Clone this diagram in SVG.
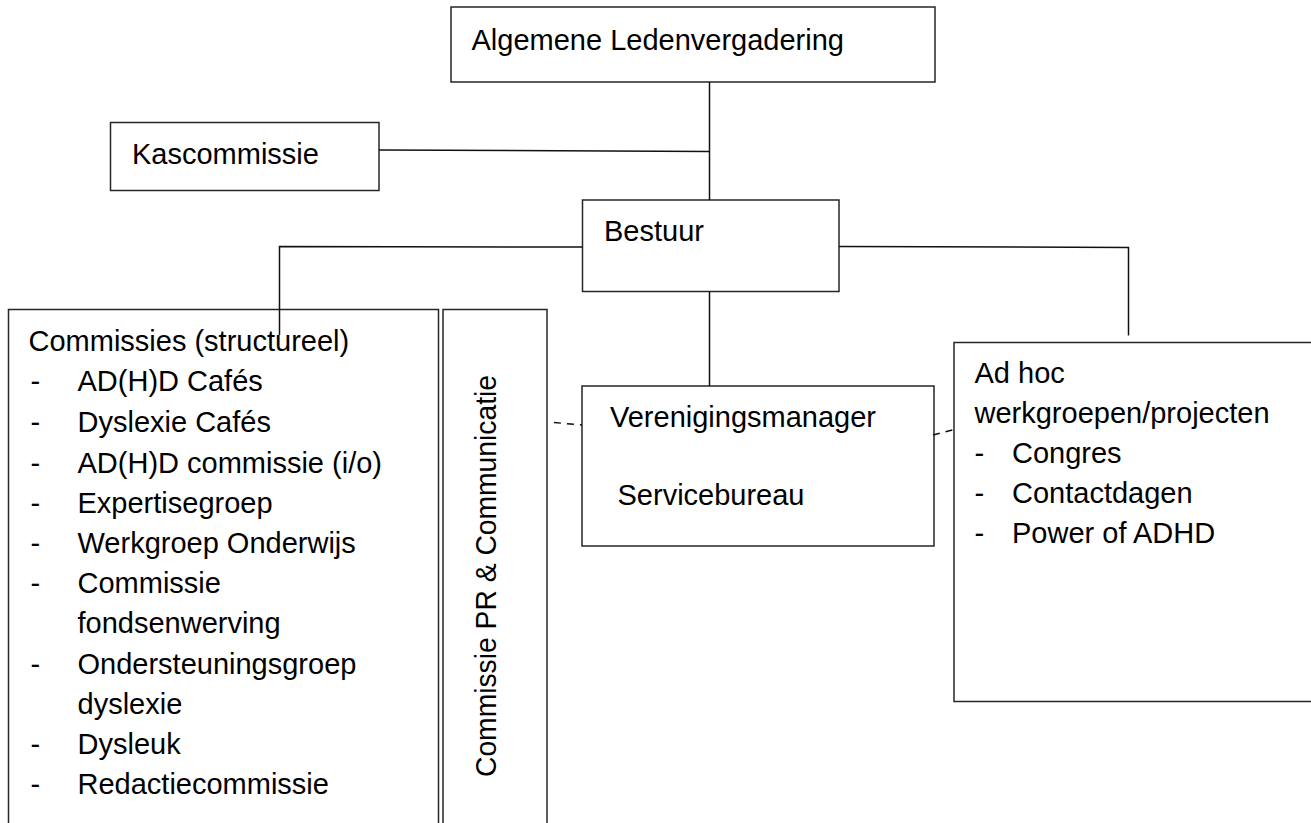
<svg xmlns="http://www.w3.org/2000/svg" width="1311" height="823" viewBox="0 0 1311 823">
<style>
  .box { fill: #ffffff; stroke: #262626; stroke-width: 1.5; }
  .ln { fill: none; stroke: #111111; stroke-width: 1.5; }
  .dash { fill: none; stroke: #111111; stroke-width: 1.5; stroke-dasharray: 7 6; }
  text { font-family: "Liberation Sans", Arial, sans-serif; font-size: 29px; fill: #000000; }
</style>
<rect x="0" y="0" width="1311" height="823" fill="#ffffff"/>

<g id="node-alv">
  <rect class="box" x="451" y="7" width="484" height="75"/>
  <text x="471.5" y="50">Algemene Ledenvergadering</text>
</g>

<g id="node-kascommissie">
  <rect class="box" x="110.5" y="122.5" width="268.5" height="68"/>
  <text x="132" y="164">Kascommissie</text>
</g>

<g id="node-bestuur">
  <rect class="box" x="582.5" y="200" width="256.5" height="91.5"/>
  <text x="604" y="240.5">Bestuur</text>
</g>

<g id="node-commissies">
  <rect class="box" x="8.5" y="309.5" width="430" height="530"/>
  <text x="28.5" y="350.5">Commissies (structureel)</text>
  <text x="30.5" y="390.5">-</text><text x="77.5" y="390.5">AD(H)D Cafés</text>
  <text x="30.5" y="431.5">-</text><text x="77.5" y="431.5">Dyslexie Cafés</text>
  <text x="30.5" y="472.5">-</text><text x="77.5" y="472.5">AD(H)D commissie (i/o)</text>
  <text x="30.5" y="512.5">-</text><text x="77.5" y="512.5">Expertisegroep</text>
  <text x="30.5" y="552.5">-</text><text x="77.5" y="552.5">Werkgroep Onderwijs</text>
  <text x="30.5" y="593">-</text><text x="77.5" y="593">Commissie</text>
  <text x="77.5" y="632.5">fondsenwerving</text>
  <text x="30.5" y="673.5">-</text><text x="77.5" y="673.5">Ondersteuningsgroep</text>
  <text x="77.5" y="713.5">dyslexie</text>
  <text x="30.5" y="754">-</text><text x="77.5" y="754">Dysleuk</text>
  <text x="30.5" y="794">-</text><text x="77.5" y="794">Redactiecommissie</text>
</g>

<g id="node-pr">
  <rect class="box" x="443" y="309.5" width="104" height="530"/>
  <text transform="translate(495.5 777) rotate(-90)" x="0" y="0" textLength="402" lengthAdjust="spacingAndGlyphs">Commissie PR &amp; Communicatie</text>
</g>

<g id="node-vm">
  <rect class="box" x="582" y="386" width="352" height="160"/>
  <text x="610" y="426.5">Verenigingsmanager</text>
  <text x="617.5" y="504.5">Servicebureau</text>
</g>

<g id="node-adhoc">
  <rect class="box" x="954" y="342.5" width="370" height="359"/>
  <text x="974.5" y="383">Ad hoc</text>
  <text x="974.5" y="423">werkgroepen/projecten</text>
  <text x="974.5" y="463">-</text><text x="1012" y="463">Congres</text>
  <text x="974.5" y="503">-</text><text x="1012" y="503">Contactdagen</text>
  <text x="974.5" y="543">-</text><text x="1012" y="543">Power of ADHD</text>
</g>

<g id="connectors">
  <line class="ln" x1="709.5" y1="82" x2="709.5" y2="200"/>
  <polyline class="ln" points="379,150 709.5,151.5"/>
  <polyline class="ln" points="582.5,247 279.5,246.5 279.5,335"/>
  <polyline class="ln" points="839,246.5 1128.5,247.5 1128.5,335.5"/>
  <line class="ln" x1="709.5" y1="291.5" x2="709.5" y2="386"/>
  <line class="dash" x1="554" y1="422.5" x2="582" y2="425"/>
  <line class="dash" x1="933" y1="435" x2="954" y2="429.5"/>
</g>
</svg>
